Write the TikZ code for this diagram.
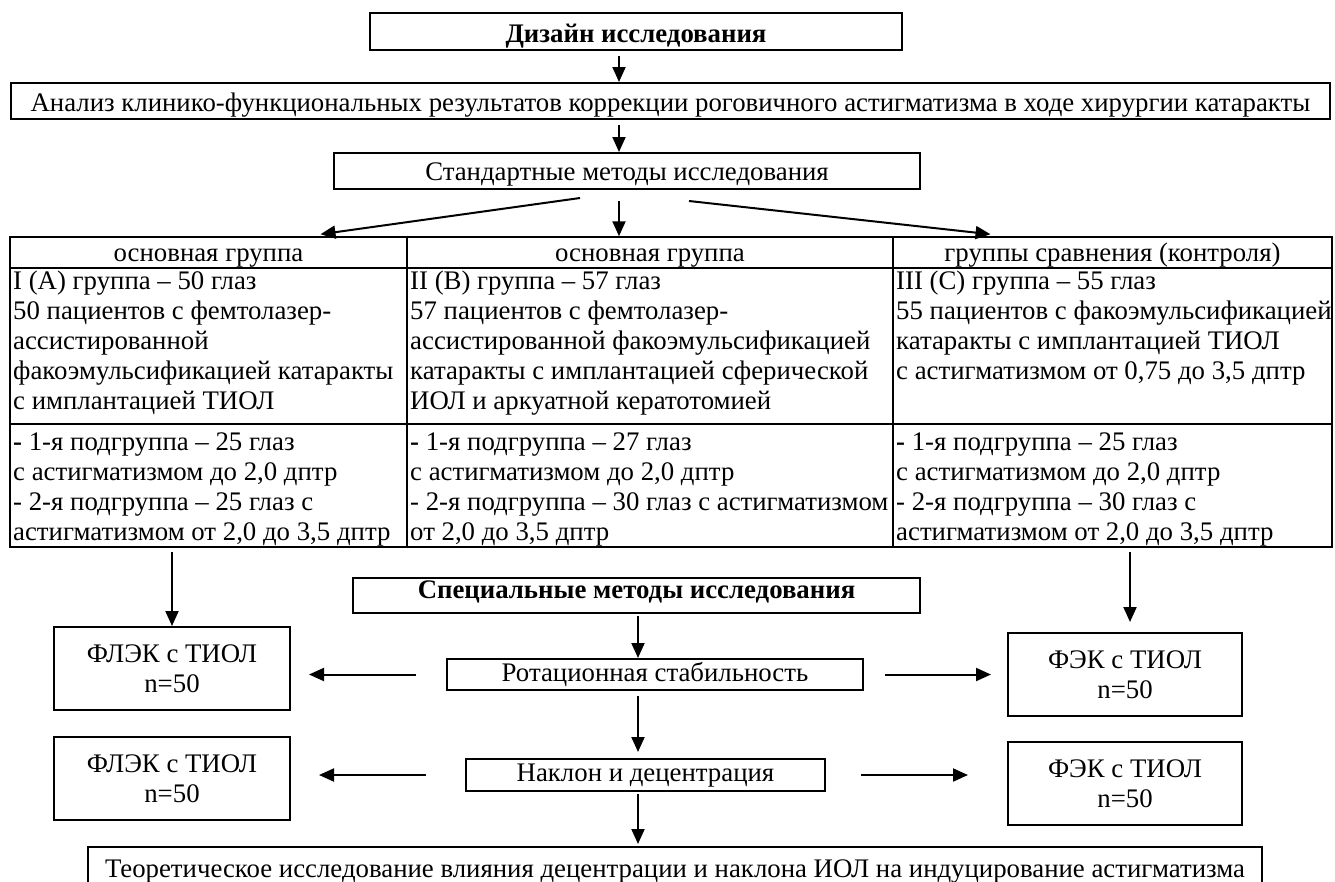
\documentclass[tikz,border=0pt]{standalone}
\usepackage{fontspec}
\setmainfont{Liberation Serif}
\usepackage{tikz}
\usetikzlibrary{arrows.meta,positioning,calc}
\tikzset{
  >={Triangle[length=15pt,width=13pt]},
  every node/.append style={font=\fontsize{26.8}{30}\selectfont},
}
\tikzset{
  box/.style={draw, line width=2pt, inner sep=3pt, align=center},
  arrow/.style={->, line width=2pt},
  grid/.style={draw, line width=1.5pt},
  head/.style={draw, line width=1.5pt, minimum height=31pt, text height=17pt, text depth=0pt},
  cell/.style={anchor=north west, align=left, inner xsep=3pt, inner ysep=0pt}
}

\begin{document}
\begin{tikzpicture}[x=1pt, y=-1pt]

\useasboundingbox (0,0) rectangle (1335,881);
\clip (0,0) rectangle (1335,881);

\coordinate (spine)  at (619,0);
\coordinate (spine2) at (638,0);

\node[box, minimum width=532pt, minimum height=37pt, text height=21pt, text depth=0pt] (design) at (636,31.5)
  {\textbf{Дизайн исследования}};
\node[box, minimum width=1319pt, minimum height=36pt, text height=21pt, text depth=0pt] (analysis) at (670.5,101)
  {Анализ клинико-функциональных результатов коррекции роговичного астигматизма в ходе хирургии катаракты};
\node[box, minimum width=586pt, minimum height=36pt, text height=19pt, text depth=1pt] (standard) at (627,171)
  {Стандартные методы исследования};

\draw[arrow, shorten <=5pt] (design.south -| spine) -- (analysis.north -| spine);
\draw[arrow, shorten <=5pt] (analysis.south -| spine) -- (standard.north -| spine);

% table of groups
\node[head, minimum width=397pt] (headA) at (208.5,252.5) {основная группа};
\node[head, minimum width=486pt] (headB) at (650,252.5)   {основная группа};
\node[head, minimum width=439pt] (headC) at (1112.5,252.5) {группы сравнения (контроля)};

\draw[grid] (10,268) rectangle (1332,547);
\draw[grid] (10,424) -- (1332,424) (407,268) -- (407,547) (893,268) -- (893,547);
\coordinate (tablefoot) at (10,547);

\node[cell] (groupA) at (10,271) {I (А) группа -- 50 глаз\\50 пациентов с фемтолазер-\\ассистированной\\факоэмульсификацией катаракты\\с имплантацией ТИОЛ};
\node[cell] (groupB) at (407,271) {II (В) группа -- 57 глаз\\57 пациентов с фемтолазер-\\ассистированной факоэмульсификацией\\катаракты с имплантацией сферической\\ИОЛ и аркуатной кератотомией};
\node[cell] (groupC) at (893,271) {III (С) группа -- 55 глаз\\55 пациентов с факоэмульсификацией\\катаракты с имплантацией ТИОЛ\\с астигматизмом от 0,75 до 3,5 дптр};

\node[cell] (subA) at (10,433) {\textbf{-} 1-я подгруппа -- 25 глаз\\с астигматизмом до 2,0 дптр\\- 2-я подгруппа -- 25 глаз с\\астигматизмом от 2,0 до 3,5 дптр};
\node[cell] (subB) at (407,433) {\textbf{-} 1-я подгруппа -- 27 глаз\\с астигматизмом до 2,0 дптр\\- 2-я подгруппа -- 30 глаз с астигматизмом\\от 2,0 до 3,5 дптр};
\node[cell] (subC) at (893,433) {\textbf{-} 1-я подгруппа -- 25 глаз\\с астигматизмом до 2,0 дптр\\- 2-я подгруппа -- 30 глаз с\\астигматизмом от 2,0 до 3,5 дптр};

\draw[arrow] ($(standard.south)+(-47,8)$) -- ($(headA.north)+(112,-2)$);
\draw[arrow, shorten <=11pt] (standard.south -| spine) -- (headB.north -| spine);
\draw[arrow] ($(standard.south)+(62,11)$) -- ($(headC.north)+(-122,-2)$);

% special methods
\node[box, minimum width=567pt, minimum height=35pt, text height=16pt, text depth=10pt] (special) at (636.5,595.5)
  {\textbf{Специальные методы исследования}};
\node[box, minimum width=416pt, minimum height=31pt, text height=19pt, text depth=6pt] (rotation) at (655,674.5)
  {Ротационная стабильность};
\node[box, minimum width=359pt, minimum height=32pt, text height=19pt, text depth=7pt] (tilt) at (645.5,775)
  {Наклон и децентрация};
\node[box, minimum width=1174pt, minimum height=40pt, text height=20pt, text depth=0pt] (theory) at (675,867)
  {Теоретическое исследование влияния децентрации и наклона ИОЛ на индуцирование астигматизма};

\node[box, minimum width=236pt, minimum height=83pt] (flekA) at (172,668.5) {ФЛЭК с ТИОЛ\\n=50};
\node[box, minimum width=236pt, minimum height=83pt] (flekB) at (172,778.5) {ФЛЭК с ТИОЛ\\n=50};
\node[box, minimum width=234pt, minimum height=83pt] (fekA) at (1125,674.5) {ФЭК с ТИОЛ\\n=50};
\node[box, minimum width=234pt, minimum height=83pt] (fekB) at (1125,783.5) {ФЭК с ТИОЛ\\n=50};

\draw[arrow, shorten <=5pt] (tablefoot -| flekA.north) -- (flekA.north);
\draw[arrow, shorten <=5pt, shorten >=10pt] ($(tablefoot -| fekA.north)+(5,0)$) -- ($(fekA.north)+(5,0)$);

\draw[arrow, shorten <=2pt] (special.south -| spine2) -- (rotation.north -| spine2);
\draw[arrow, shorten <=5pt, shorten >=6pt] (rotation.south -| spine2) -- (tilt.north -| spine2);
\draw[arrow, shorten <=2pt, shorten >=2pt] (tilt.south -| spine2) -- (theory.north -| spine2);

\draw[arrow, shorten <=30pt, shorten >=18pt] (rotation.west) -- (rotation.west -| flekA.east);
\draw[arrow, shorten <=21pt, shorten >=16pt] (rotation.east) -- (rotation.east -| fekA.west);
\draw[arrow, shorten <=39pt, shorten >=28pt] (tilt.west) -- (tilt.west -| flekB.east);
\draw[arrow, shorten <=35pt, shorten >=39pt] (tilt.east) -- (tilt.east -| fekB.west);

\end{tikzpicture}
\end{document}
